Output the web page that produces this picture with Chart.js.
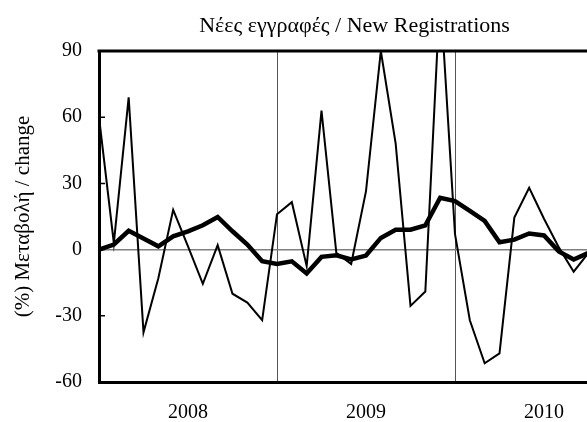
<!DOCTYPE html>
<html>
<head>
<meta charset="utf-8">
<script src="https://cdn.jsdelivr.net/npm/chart.js@4"></script>
<style>
  html, body { margin: 0; padding: 0; background: #fff; overflow: hidden; width: 587px; height: 422px; }
  canvas { display: block; }
</style>
</head>
<body>
<canvas id="regChart" width="709" height="422"></canvas>
<script>
// monthly points, Jan 2008 .. Jan 2011 (axis runs on the month boundaries)
const months = [];
for (let y = 2008; y <= 2010; y++) {
    for (let m = 1; m <= 12; m++) months.push(y + '-' + String(m).padStart(2, '0'));
}
months.push('2011-01');

const yearLabels = ['2008', '2009', '2010'];
const yTicks = [-60, -30, 0, 30, 60, 90];

// % change, thin line
const monthlyChange = [
    60, 3, 69, -37.5, -13, 18, 1.5, -15.5, 2, -20, -24, -32,
    16, 21.5, -7.5, 63, -1.5, -6.5, 26.5, 90, 48, -25.5, -19, 117,
    7, -32, -51.5, -47, 14.5, 28, 14, 1, -10, -1.5
];

// % change, thick line
const smoothedChange = [
    0, 2.3, 8.5, 5, 1.5, 6, 8.3, 11, 14.8, 8.3, 2.3, -5.3,
    -6.5, -5.3, -10.8, -3.3, -2.6, -4.5, -2.7, 5.3, 9, 9, 11, 23.5,
    22, 17.5, 13, 3.3, 4.5, 7.3, 6.4, -0.8, -4.5, -1.5
];

const serif = 'Liberation Serif, Times New Roman, serif';
Chart.defaults.color = '#000';
Chart.defaults.font.family = serif;

// top edge of the frame + short inward ticks on the value axis
const framePlugin = {
    id: 'frame',
    afterDatasetsDraw(chart) {
        const { ctx, chartArea: a, scales: { y } } = chart;
        ctx.save();
        ctx.strokeStyle = '#000';
        ctx.lineWidth = 1.5;
        ctx.beginPath();
        y.ticks.forEach(t => {
            const py = y.getPixelForValue(t.value);
            ctx.moveTo(a.left, py);
            ctx.lineTo(a.left + 6, py);
        });
        ctx.stroke();
        ctx.lineWidth = 3;
        ctx.beginPath();
        ctx.moveTo(a.left - 1.5, a.top);
        ctx.lineTo(a.right, a.top);
        ctx.stroke();
        ctx.restore();
    }
};

new Chart(document.getElementById('regChart'), {
    type: 'line',
    data: {
        labels: months,
        datasets: [{
            data: monthlyChange,
            borderColor: '#000',
            borderWidth: 2,
            pointRadius: 0,
            tension: 0
        }, {
            data: smoothedChange,
            borderColor: '#000',
            borderWidth: 4.5,
            pointRadius: 0,
            tension: 0
        }]
    },
    options: {
        responsive: false,
        animation: false,
        layout: { padding: { top: 6, right: 0, left: 0, bottom: 0 } },
        plugins: {
            legend: { display: false },
            tooltip: { enabled: false },
            title: {
                display: true,
                text: 'Νέες εγγραφές / New Registrations',
                font: { size: 22, weight: 'normal', family: serif },
                color: '#000',
                padding: { top: 7, bottom: 11.6 }
            }
        },
        scales: {
            x: {
                type: 'category',
                offset: false,
                afterFit: s => { s.height = 40; },
                grid: {
                    drawTicks: false,
                    lineWidth: 1,
                    color: c => (c.index === 12 || c.index === 24) ? '#555' : 'rgba(0,0,0,0)'
                },
                border: { color: '#000', width: 3 },
                ticks: {
                    autoSkip: false,
                    maxRotation: 0,
                    padding: 19,
                    font: { size: 20 },
                    callback: function (v) {
                        const lab = this.getLabelForValue(v);
                        if (lab.endsWith('-07')) {
                            const yr = lab.slice(0, 4);
                            return yearLabels.includes(yr) ? yr : '';
                        }
                        return '';
                    }
                }
            },
            y: {
                min: -60,
                max: 90,
                afterBuildTicks: s => { s.ticks = yTicks.map(v => ({ value: v })); },
                afterFit: s => { s.width = 99; },
                grid: {
                    drawTicks: false,
                    lineWidth: 1.5,
                    color: c => c.tick && c.tick.value === 0 ? '#808080' : 'rgba(0,0,0,0)'
                },
                border: { color: '#000', width: 3 },
                ticks: { padding: 17, font: { size: 20 } },
                title: {
                    display: true,
                    text: '(%) Μεταβολή / change',
                    font: { size: 21, family: serif },
                    padding: { top: 11, bottom: 0 }
                }
            },
            // empty strip right of the plot, keeps the title centred on the full chart
            yRight: {
                position: 'right',
                afterFit: s => { s.width = 76; },
                grid: { display: false },
                border: { display: false },
                ticks: { display: false }
            }
        }
    },
    plugins: [framePlugin]
});
</script>
</body>
</html>
